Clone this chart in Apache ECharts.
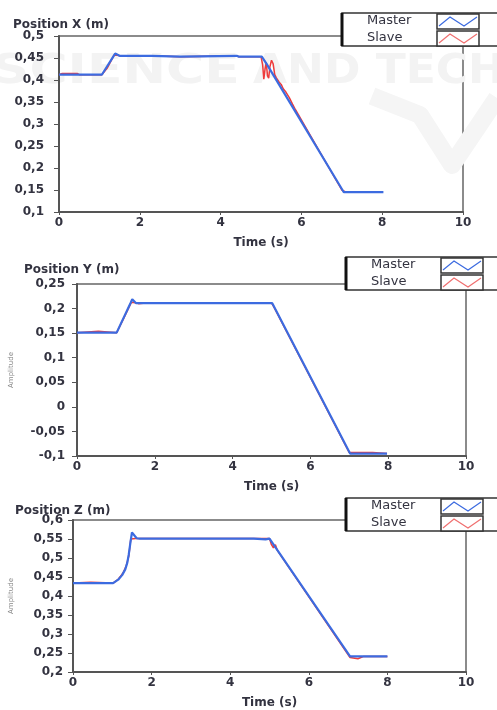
<html style="height: 100%">
<head>
  <meta charset="utf-8" />
  <title>Position X Y Z</title>
  <script type="text/javascript" src="https://cdn.jsdelivr.net/npm/echarts@6/dist/echarts.min.js"></script>
</head>
<body style="height: 100%; width:100%; margin: 0; background:#fff">
  <div id="container" style="height: 710px; width:497px"></div>
<script type="text/javascript">
  // data: [time (s), position (m)]
  var masterX = [[0,0.412],[1.06,0.412],[1.39,0.46],[1.5,0.455],[2.3,0.455],[2.32,0.453],[3.0,0.453],[3.04,0.455],[4.4,0.455],[4.45,0.453],[5.02,0.453],[5.15,0.435],[7.05,0.145],[8.03,0.145]];
  var slaveX = [[0,0.412],[0.08,0.415],[0.45,0.415],[0.5,0.412],[1.06,0.412],[1.2,0.428],[1.36,0.456],[1.42,0.457],[1.5,0.455],[2.3,0.455],[2.32,0.453],[3.0,0.453],[3.04,0.455],[4.4,0.455],[4.45,0.453],[5.0,0.453],[5.04,0.435],[5.07,0.402],[5.1,0.425],[5.13,0.44],[5.16,0.41],[5.19,0.404],[5.22,0.43],[5.26,0.445],[5.3,0.437],[5.34,0.412],[5.38,0.405],[5.45,0.395],[5.5,0.39],[5.55,0.38],[5.62,0.372],[5.7,0.36],[5.78,0.345],[5.85,0.333],[7.0,0.15],[7.08,0.146],[7.2,0.146],[8.0,0.145]];

  var masterY = [[0,0.151],[1.02,0.151],[1.38,0.212],[1.42,0.219],[1.46,0.216],[1.52,0.211],[5.02,0.211],[7.02,-0.095],[7.97,-0.095]];
  var slaveY = [[0,0.151],[0.05,0.154],[0.55,0.154],[0.6,0.151],[1.02,0.151],[1.2,0.18],[1.35,0.205],[1.4,0.213],[1.5,0.212],[1.58,0.21],[1.62,0.212],[1.7,0.211],[5.0,0.211],[5.05,0.205],[7.0,-0.093],[7.05,-0.092],[7.6,-0.093],[7.65,-0.095],[7.97,-0.095]];

  var masterZ = [[0,0.434],[1.02,0.434],[1.15,0.443],[1.25,0.455],[1.33,0.47],[1.38,0.487],[1.42,0.51],[1.46,0.54],[1.5,0.567],[1.55,0.563],[1.62,0.552],[1.7,0.551],[4.6,0.551],[4.62,0.549],[4.9,0.549],[5.0,0.551],[7.05,0.241],[8.0,0.241]];
  var slaveZ = [[0,0.434],[0.05,0.436],[0.45,0.436],[0.5,0.434],[1.02,0.434],[1.15,0.444],[1.27,0.46],[1.35,0.478],[1.42,0.505],[1.47,0.55],[1.5,0.553],[1.6,0.551],[5.0,0.551],[5.05,0.535],[5.1,0.527],[5.15,0.535],[5.2,0.52],[7.05,0.238],[7.1,0.234],[7.25,0.235],[7.4,0.241],[8.0,0.241]];

  var titles = ['Position X (m)', 'Position Y (m)', 'Position Z (m)'];
  var seriesNames = ['Master', 'Slave'];
  var yRanges = [[0.1, 0.5], [-0.1, 0.25], [0.2, 0.6]];
  var timeRange = [0, 10];

  var blue = '#3c6be0';
  var red = '#ee3b3b';
  var ink = '#333340';
  var font = '"DejaVu Sans", Verdana, sans-serif';

  var grids = [
    {left: 59, width: 404, top: 36, height: 176},
    {left: 75, width: 391, top: 284, height: 172},
    {left: 68, width: 398, top: 520, height: 164}
  ];
  var titlePos = [[8, 14], [19, 259], [10, 500]];
  var legendPos = [[342, 13], [346, 257], [346, 498]];
  var labelMargin = [15, 12, 10];
  var ampGap = [0, 62, 58];

  function comma(v) {
    return String(+v.toFixed(2)).replace('.', ',');
  }

  function makeLegend(x, y) {
    var kids = [
      {type: 'rect', shape: {x: 0, y: 0, width: 160, height: 33}, style: {fill: '#fff', stroke: '#333', lineWidth: 1.5}},
      {type: 'line', shape: {x1: 0, y1: 0, x2: 0, y2: 33}, style: {stroke: '#111', lineWidth: 3}}
    ];
    var cols = [blue, '#f07070'];
    for (var i = 0; i < 2; i++) {
      var oy = i * 17;
      kids.push({type: 'text', x: 25, y: oy + 8, style: {text: seriesNames[i], fill: ink, font: '13px ' + font, verticalAlign: 'middle'}});
      kids.push({type: 'rect', shape: {x: 95, y: oy + 1, width: 42, height: 15}, style: {fill: '#fff', stroke: '#333', lineWidth: 1.5}});
      kids.push({type: 'polyline', shape: {points: [[97, oy + 13], [108, oy + 4], [122, oy + 13], [135, oy + 4]]}, style: {stroke: cols[i], lineWidth: 1.2, fill: null}});
    }
    return {type: 'group', x: x, y: y, z: 100, children: kids};
  }

  // faint publisher watermark behind the first plot
  var watermark = {
    type: 'group', z: -10, silent: true,
    children: [
      {type: 'text', x: -8, y: 73, scaleX: 1.3, style: {text: 'SCIENCE', fill: '#f3f3f3', font: 'bold 40px ' + font, verticalAlign: 'middle'}},
      {type: 'text', x: 253, y: 73, scaleX: 1.1, style: {text: 'AND TECH', fill: '#f3f3f3', font: 'bold 40px ' + font, verticalAlign: 'middle'}},
      {type: 'polyline', shape: {points: [[372, 96], [420, 115], [452, 165], [497, 98]]}, style: {stroke: '#f5f5f5', lineWidth: 18, fill: null, lineJoin: 'round'}}
    ]
  };

  var dom = document.getElementById('container');
  var myChart = echarts.init(dom, null, {renderer: 'canvas'});

  var option = {
    animation: false,
    backgroundColor: '#fff',
    title: [],
    grid: [],
    xAxis: [],
    yAxis: [],
    series: [],
    graphic: [watermark]
  };

  var allData = [[masterX, slaveX], [masterY, slaveY], [masterZ, slaveZ]];

  for (var k = 0; k < 3; k++) {
    option.title.push({
      text: titles[k], left: titlePos[k][0], top: titlePos[k][1],
      textStyle: {fontFamily: font, fontSize: 12, fontWeight: 'bold', color: ink}
    });
    option.grid.push({
      left: grids[k].left, width: grids[k].width, top: grids[k].top, height: grids[k].height,
      show: true, borderColor: '#666', borderWidth: 1.5, backgroundColor: 'transparent'
    });
    option.xAxis.push({
      gridIndex: k, type: 'value', min: timeRange[0], max: timeRange[1], interval: 2,
      name: 'Time (s)', nameLocation: 'middle', nameGap: 25,
      nameTextStyle: {fontFamily: font, fontSize: 12, fontWeight: 'bold', color: ink},
      axisLine: {onZero: false, lineStyle: {color: '#555', width: 2}},
      axisTick: {show: true, length: 3, lineStyle: {color: '#555'}},
      axisLabel: {fontFamily: font, fontSize: 12, fontWeight: 'bold', color: ink, margin: 5},
      splitLine: {show: false}
    });
    option.yAxis.push({
      gridIndex: k, type: 'value', min: yRanges[k][0], max: yRanges[k][1], interval: 0.05,
      name: k > 0 ? 'Amplitude' : '', nameLocation: 'middle', nameGap: ampGap[k],
      nameTextStyle: {fontFamily: font, fontSize: 7, color: '#888'},
      axisLine: {show: true, onZero: false, lineStyle: {color: '#555', width: 2}},
      axisTick: {show: true, length: 5, lineStyle: {color: '#555'}},
      axisLabel: {fontFamily: font, fontSize: 12, fontWeight: 'bold', color: ink, margin: labelMargin[k], formatter: comma},
      splitLine: {show: false}
    });
    // slave first so the master line sits on top
    option.series.push({
      name: seriesNames[1], type: 'line', xAxisIndex: k, yAxisIndex: k,
      data: allData[k][1], showSymbol: false, symbol: 'none',
      lineStyle: {color: red, width: 1.5}, z: 2
    });
    option.series.push({
      name: seriesNames[0], type: 'line', xAxisIndex: k, yAxisIndex: k,
      data: allData[k][0], showSymbol: false, symbol: 'none',
      lineStyle: {color: blue, width: 2.2}, z: 3
    });
    option.graphic.push(makeLegend(legendPos[k][0], legendPos[k][1]));
  }

  myChart.setOption(option);
</script>
</body>
</html>
